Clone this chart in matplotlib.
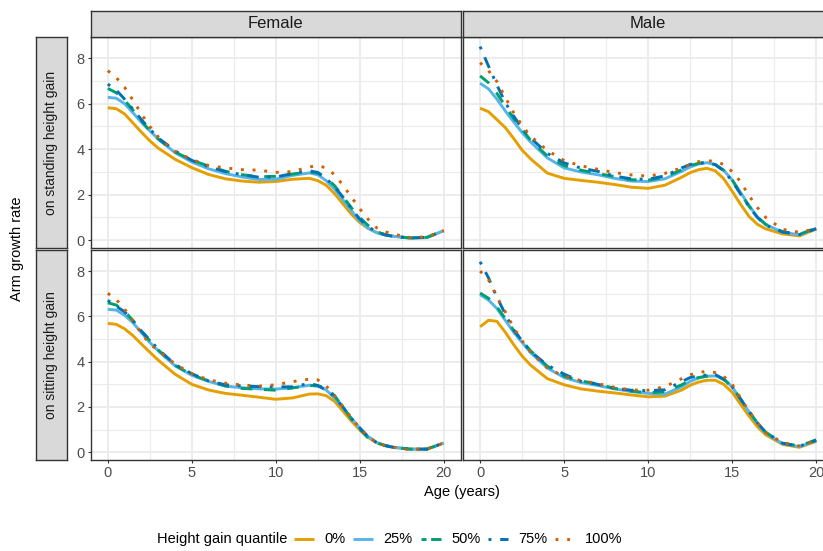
import matplotlib
matplotlib.use("Agg")
import matplotlib.pyplot as plt
from matplotlib.lines import Line2D

plt.rcParams['font.family'] = ['Liberation Sans', 'DejaVu Sans']

# ages (years) at which the curves were read
age = [0, 0.5, 1, 1.5, 2, 2.5, 3, 4, 5, 6, 7, 8, 9, 10, 11, 12, 12.5,
       13, 13.5, 14, 14.5, 15, 15.5, 16, 16.5, 17, 18, 19, 20]

quantiles = ['0%', '25%', '50%', '75%', '100%']
sexes = ['Female', 'Male']
measures = ['on standing height gain', 'on sitting height gain']

female_standing = {
    '0%':   [5.82, 5.78, 5.55, 5.15, 4.75, 4.37, 4.05, 3.56, 3.19, 2.89, 2.70, 2.60, 2.55, 2.58, 2.68, 2.72, 2.62,
             2.42, 2.05, 1.60, 1.15, 0.78, 0.52, 0.35, 0.25, 0.18, 0.10, 0.12, 0.42],
    '25%':  [6.28, 6.24, 6.00, 5.60, 5.18, 4.81, 4.45, 3.85, 3.44, 3.14, 2.93, 2.78, 2.67, 2.68, 2.85, 2.96, 2.88,
             2.62, 2.25, 1.78, 1.30, 0.86, 0.53, 0.33, 0.23, 0.17, 0.10, 0.12, 0.42],
    '50%':  [6.67, 6.48, 6.15, 5.72, 5.25, 4.81, 4.45, 3.88, 3.52, 3.26, 3.03, 2.88, 2.79, 2.81, 2.91, 3.00, 2.95,
             2.74, 2.40, 1.92, 1.43, 1.00, 0.65, 0.38, 0.25, 0.17, 0.10, 0.13, 0.42],
    '75%':  [6.86, 6.60, 6.20, 5.75, 5.30, 4.89, 4.50, 3.93, 3.51, 3.23, 3.02, 2.88, 2.77, 2.78, 2.93, 3.05, 2.98,
             2.72, 2.35, 1.90, 1.40, 0.93, 0.60, 0.36, 0.24, 0.17, 0.10, 0.13, 0.42],
    '100%': [7.45, 7.15, 6.72, 6.15, 5.55, 5.00, 4.55, 3.90, 3.55, 3.28, 3.18, 3.10, 3.08, 2.98, 3.02, 3.22, 3.28,
             3.18, 2.88, 2.42, 1.90, 1.39, 0.92, 0.55, 0.38, 0.27, 0.12, 0.15, 0.42],
}

female_sitting = {
    '0%':   [5.69, 5.65, 5.45, 5.15, 4.78, 4.42, 4.07, 3.45, 3.00, 2.75, 2.60, 2.52, 2.43, 2.34, 2.40, 2.57, 2.58,
             2.50, 2.25, 1.82, 1.38, 0.99, 0.66, 0.42, 0.30, 0.22, 0.14, 0.14, 0.41],
    '25%':  [6.31, 6.28, 6.05, 5.72, 5.28, 4.85, 4.48, 3.82, 3.40, 3.13, 2.92, 2.85, 2.80, 2.79, 2.85, 2.96, 2.93,
             2.75, 2.40, 1.97, 1.50, 1.07, 0.70, 0.44, 0.30, 0.22, 0.14, 0.14, 0.41],
    '50%':  [6.60, 6.50, 6.22, 5.82, 5.35, 4.93, 4.52, 3.84, 3.42, 3.15, 2.93, 2.82, 2.78, 2.74, 2.84, 2.95, 2.93,
             2.85, 2.50, 2.00, 1.48, 1.02, 0.63, 0.42, 0.30, 0.22, 0.14, 0.14, 0.41],
    '75%':  [6.71, 6.45, 6.20, 5.80, 5.35, 4.96, 4.55, 3.88, 3.47, 3.15, 2.98, 2.93, 2.90, 2.89, 2.89, 3.04, 2.95,
             2.75, 2.45, 2.00, 1.50, 1.08, 0.68, 0.43, 0.30, 0.22, 0.14, 0.14, 0.41],
    '100%': [7.02, 6.75, 6.32, 5.80, 5.25, 4.78, 4.50, 3.90, 3.47, 3.20, 3.05, 2.97, 2.92, 2.98, 3.12, 3.23, 3.20,
             2.93, 2.50, 2.02, 1.52, 1.08, 0.68, 0.43, 0.30, 0.22, 0.12, 0.15, 0.41],
}

male_standing = {
    '0%':   [5.80, 5.65, 5.30, 4.95, 4.47, 3.96, 3.58, 2.95, 2.72, 2.63, 2.55, 2.45, 2.33, 2.28, 2.42, 2.77, 2.97,
             3.10, 3.16, 3.05, 2.70, 2.15, 1.58, 1.05, 0.70, 0.50, 0.28, 0.19, 0.49],
    '25%':  [6.90, 6.65, 6.20, 5.68, 5.20, 4.73, 4.32, 3.62, 3.18, 3.00, 2.88, 2.72, 2.60, 2.58, 2.70, 3.03, 3.22,
             3.35, 3.41, 3.32, 3.07, 2.65, 2.10, 1.53, 1.03, 0.69, 0.35, 0.24, 0.51],
    '50%':  [7.22, 6.92, 6.45, 5.90, 5.35, 4.87, 4.40, 3.70, 3.28, 3.08, 2.93, 2.80, 2.66, 2.64, 2.78, 3.10, 3.28,
             3.38, 3.41, 3.32, 3.07, 2.65, 2.05, 1.50, 1.02, 0.69, 0.38, 0.26, 0.54],
    '75%':  [8.51, 7.65, 6.82, 6.05, 5.45, 4.92, 4.50, 3.82, 3.40, 3.17, 3.03, 2.82, 2.70, 2.68, 2.83, 3.18, 3.33,
             3.38, 3.43, 3.32, 3.05, 2.60, 2.03, 1.48, 1.00, 0.66, 0.36, 0.25, 0.51],
    '100%': [7.80, 7.45, 6.97, 6.28, 5.60, 5.05, 4.57, 3.95, 3.50, 3.27, 3.12, 2.97, 2.87, 2.82, 2.94, 3.18, 3.33,
             3.45, 3.50, 3.46, 3.33, 3.02, 2.57, 1.96, 1.44, 1.00, 0.48, 0.35, 0.51],
}

male_sitting = {
    '0%':   [5.54, 5.83, 5.78, 5.30, 4.75, 4.25, 3.85, 3.25, 2.98, 2.80, 2.70, 2.62, 2.53, 2.45, 2.48, 2.75, 2.96,
             3.10, 3.18, 3.18, 3.00, 2.65, 2.12, 1.60, 1.13, 0.77, 0.35, 0.22, 0.48],
    '25%':  [6.96, 6.72, 6.35, 5.82, 5.30, 4.85, 4.40, 3.72, 3.30, 3.08, 2.95, 2.80, 2.68, 2.60, 2.57, 2.90, 3.13,
             3.28, 3.36, 3.37, 3.25, 2.88, 2.35, 1.78, 1.27, 0.85, 0.38, 0.25, 0.51],
    '50%':  [7.03, 6.80, 6.42, 5.90, 5.38, 4.92, 4.48, 3.80, 3.36, 3.15, 3.02, 2.82, 2.70, 2.63, 2.67, 2.98, 3.18,
             3.30, 3.36, 3.37, 3.22, 2.88, 2.35, 1.80, 1.30, 0.88, 0.40, 0.28, 0.55],
    '75%':  [8.41, 7.70, 6.85, 6.10, 5.40, 4.92, 4.45, 3.85, 3.45, 3.13, 3.00, 2.82, 2.74, 2.72, 2.76, 3.12, 3.30,
             3.38, 3.41, 3.43, 3.22, 2.90, 2.35, 1.80, 1.30, 0.88, 0.40, 0.27, 0.53],
    '100%': [8.00, 7.62, 6.85, 6.20, 5.50, 4.92, 4.42, 3.72, 3.35, 3.17, 3.03, 2.87, 2.75, 2.74, 2.90, 3.25, 3.42,
             3.52, 3.58, 3.52, 3.35, 3.00, 2.40, 1.82, 1.30, 0.88, 0.42, 0.28, 0.53],
}

panels = [[female_standing, male_standing],
          [female_sitting, male_sitting]]

colors = ['#E69F00', '#56B4E9', '#009E73', '#0072B2', '#D55E00']
styles = ['-', '-', (0, (4, 4)), (0, (1, 3, 4, 3)), (0, (1, 3))]
key_styles = ['-', '-', (0, (1.7, 1.6, 4, 4)), (0, (1, 3, 4, 3)), (0, (1, 3))]
lw = 2.1

W, H = 823, 551
fig = plt.figure(figsize=(W / 100, H / 100), dpi=100)


def box(x0, y0, x1, y1):
    # pixel box (top-left origin) -> figure fraction rect
    return [x0 / W, 1 - y1 / H, (x1 - x0) / W, (y1 - y0) / H]


col_x = [(91, 460.5), (463.3, 833)]
row_y = [(37, 248), (250, 460)]
strip_fill = '#D9D9D9'
edge = '#333333'

for r in range(2):
    for c in range(2):
        ax = fig.add_axes(box(col_x[c][0], row_y[r][0], col_x[c][1], row_y[r][1]))
        data = panels[r][c]
        for q, col, ls in zip(quantiles, colors, styles):
            ax.plot(age, data[q], color=col, linestyle=ls, lw=lw,
                    solid_capstyle='butt', dash_capstyle='butt')
        ax.set_xlim(-1, 21)
        ax.set_ylim(-0.34, 8.93)
        ax.set_xticks([0, 5, 10, 15, 20])
        ax.set_xticks([2.5, 7.5, 12.5, 17.5], minor=True)
        ax.set_yticks([0, 2, 4, 6, 8])
        ax.set_yticks([1, 3, 5, 7], minor=True)
        ax.grid(True, which='major', color='#EBEBEB', lw=1.3)
        ax.grid(True, which='minor', color='#EBEBEB', lw=0.8)
        ax.set_axisbelow(True)
        for s in ax.spines.values():
            s.set_color(edge)
            s.set_linewidth(1.0)
        ax.tick_params(which='minor', length=0)
        ax.tick_params(which='major', length=2.5, width=0.8, color=edge,
                       labelcolor='#4D4D4D', labelsize=10.5, pad=2)
        if c == 1:
            ax.tick_params(axis='y', which='major', left=False, labelleft=False)
        if r == 0:
            ax.tick_params(axis='x', which='major', bottom=False, labelbottom=False)

# column strips
for c in range(2):
    sa = fig.add_axes(box(col_x[c][0], 11, col_x[c][1], 36.5))
    sa.set_facecolor(strip_fill)
    sa.set_xticks([])
    sa.set_yticks([])
    for s in sa.spines.values():
        s.set_color(edge)
        s.set_linewidth(1.0)
    sa.text(0.5, 0.5, sexes[c], ha='center', va='center', fontsize=12,
            color='#1A1A1A', transform=sa.transAxes)

# row strips, placed on the left
for r in range(2):
    sa = fig.add_axes(box(36, row_y[r][0], 67, row_y[r][1]))
    sa.set_facecolor(strip_fill)
    sa.set_xticks([])
    sa.set_yticks([])
    for s in sa.spines.values():
        s.set_color(edge)
        s.set_linewidth(1.0)
    sa.text(0.5, 0.5, measures[r], ha='center', va='center', fontsize=10,
            rotation=90, color='#1A1A1A', transform=sa.transAxes)

fig.text(17 / W, 1 - 248.5 / H, 'Arm growth rate', rotation=90,
         ha='center', va='center', fontsize=10.5)
fig.text(462 / W, 1 - 492 / H, 'Age (years)', ha='center', va='center',
         fontsize=10.5)

# legend along the bottom, keys placed one by one
leg_y = 1 - 539 / H
fig.text(157 / W, leg_y, 'Height gain quantile', ha='left', va='center',
         fontsize=10.5)
key_x = [294, 353, 421, 488, 555]
for q, col, ls, kx in zip(quantiles, colors, key_styles, key_x):
    fig.add_artist(Line2D([kx / W, (kx + 20) / W], [leg_y, leg_y],
                          transform=fig.transFigure, color=col, linestyle=ls,
                          lw=lw, dash_capstyle='butt', solid_capstyle='butt'))
    fig.text((kx + 30) / W, leg_y, q, ha='left', va='center', fontsize=10.5)

fig.savefig('out.png', dpi=100)
